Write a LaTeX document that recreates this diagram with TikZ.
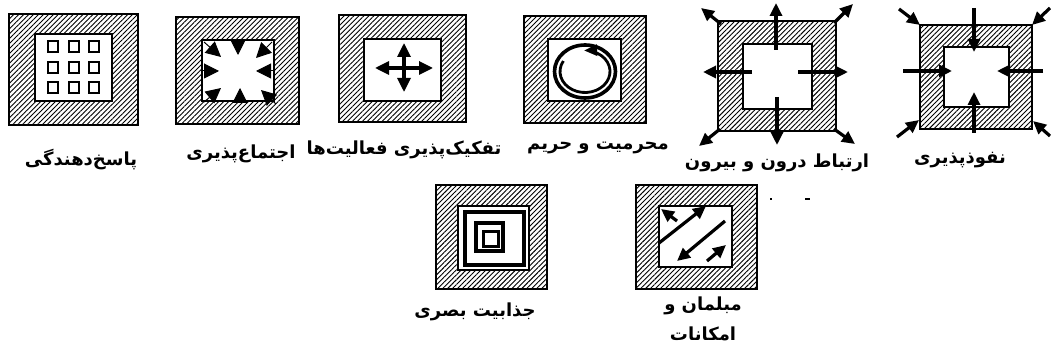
\documentclass[tikz,border=0pt]{standalone}
\usepackage{fontspec}
\usepackage{tikz}
\usetikzlibrary{arrows.meta, patterns.meta}
\TeXXeTstate=1
\newfontfamily\persianfont[Script=Arabic]{DejaVu Sans}
\newcommand{\fa}[1]{\beginR #1\endR}

\begin{document}
\begin{tikzpicture}[x=1pt, y=-1pt,
    outerbox/.style={draw, line width=2.6pt, inner sep=0pt,
      pattern={Lines[angle=45, distance=3.5pt, line width=0.9pt]}},
    innerbox/.style={draw, fill=white, line width=2.2pt, inner sep=0pt},
    cellbox/.style={draw, line width=2pt, inner sep=0pt, minimum width=10pt, minimum height=11pt},
    bigarrow/.style={line width=3.2pt, -{Triangle[length=13pt, width=12pt]}},
    headonly/.style={line width=1pt, -{Triangle[length=15pt, width=15pt]}},
    caption/.style={font=\persianfont\bfseries\fontsize{18}{30}\selectfont, inner sep=0pt, align=center}]
  \useasboundingbox (0,0) rectangle (1051,355);

  % first row of frames
  \node[outerbox, minimum width=129pt, minimum height=111pt] (respo) at (73.5,69.5) {};
  \node[innerbox, minimum width=77pt, minimum height=67pt] (respi) at (73.5,67.5) {};
  \foreach \dx [count=\i] in {-20.5,0,20.5}
    \foreach \dy [count=\j] in {-21,0,20}
      \node[cellbox] (cell-\i-\j) at ([shift={(\dx,\dy)}]respi.center) {};

  \node[outerbox, minimum width=123pt, minimum height=107pt] (soco) at (237.5,70.5) {};
  \node[innerbox, minimum width=72pt, minimum height=61pt] (soci) at (238,70.5) {};
  \draw[headonly] (238,40) -- (238,55);
  \draw[headonly] (240,102) -- (240,88);
  \draw[headonly] (202,71) -- (219,71);
  \draw[headonly] (274,71) -- (256,71);
  \draw[headonly] (204,42) -- (221,57);
  \draw[headonly] (272,42) -- (256,58);
  \draw[headonly] (204,102) -- (221,88);
  \draw[headonly] (276,104) -- (261,90);

  \node[outerbox, minimum width=127pt, minimum height=107pt] (sepo) at (402.5,68.5) {};
  \node[innerbox, minimum width=77pt, minimum height=62pt] (sepi) at (402.5,70) {};
  \draw[line width=3.2pt, {Triangle[length=14pt, width=13pt]}-{Triangle[length=14pt, width=13pt]}] (375,68) -- (433,68);
  \draw[line width=3.2pt, {Triangle[length=14pt, width=13pt]}-{Triangle[length=14pt, width=13pt]}] (404,43) -- (404,92);

  \node[outerbox, minimum width=122pt, minimum height=107pt] (privo) at (585,69.5) {};
  \node[innerbox, minimum width=73pt, minimum height=62pt] (privi) at (584.5,70) {};
  \draw[line width=3.6pt] (585,71.5) ellipse[x radius=30.5, y radius=26.5];
  \draw[line width=2.8pt, -{Triangle[length=13pt, width=11pt]}] (585,71.5) ++(-150:25 and 21)
    arc[start angle=-150, end angle=-452, x radius=25, y radius=21];

  \node[outerbox, minimum width=118pt, minimum height=110pt] (inouto) at (777,76) {};
  \node[innerbox, minimum width=69pt, minimum height=65pt] (inouti) at (777.5,76.5) {};
  \draw[bigarrow] (776,50) -- (776,3);
  \draw[bigarrow] (777,97) -- (777,145);
  \draw[bigarrow] (752,72) -- (703,72);
  \draw[bigarrow] (798,72) -- (848,72);
  \draw[bigarrow] (721,24) -- (701,8);
  \draw[bigarrow] (834,23) -- (853,4);
  \draw[bigarrow] (720,129) -- (699,146);
  \draw[bigarrow] (834,129) -- (855,144);

  \node[outerbox, minimum width=112pt, minimum height=104pt] (permo) at (976,77) {};
  \node[innerbox, minimum width=65pt, minimum height=60pt] (permi) at (976.5,77) {};
  \draw[bigarrow] (974,8) -- (974,52);
  \draw[bigarrow] (974,133) -- (974,92);
  \draw[bigarrow] (903,71) -- (952,71);
  \draw[bigarrow] (1043,71) -- (997,71);
  \draw[bigarrow] (899,9) -- (920,25);
  \draw[bigarrow] (1050,8) -- (1032,25);
  \draw[bigarrow] (897,137) -- (919,120);
  \draw[bigarrow] (1050,136) -- (1033,121);

  % second row of frames
  \node[outerbox, minimum width=111pt, minimum height=104pt] (viso) at (491.5,237) {};
  \node[innerbox, minimum width=71pt, minimum height=64pt] (visi) at (493.5,238) {};
  \draw[line width=4pt] (465,212) rectangle (524,265);
  \draw[line width=3.7pt] (476,223) rectangle (503,251);
  \draw[line width=3pt] (483.5,231.5) rectangle (498.5,246.5);

  \node[outerbox, minimum width=121pt, minimum height=104pt] (furno) at (696.5,237) {};
  \node[innerbox, minimum width=73pt, minimum height=61pt] (furni) at (695.5,236.5) {};
  \draw[bigarrow] (659,243) -- (706,206);
  \draw[bigarrow] (677,221) -- (661,209);
  \draw[bigarrow] (725,221) -- (677,261);
  \draw[bigarrow] (707,261) -- (726,245);

  \fill (770,198) rectangle (772,200);
  \fill (805,198) rectangle (810,200);

  % captions
  \node[caption] (resplab) at (81,160) {\fa{پاسخ‌دهندگی}};
  \node[caption] (soclab) at (241,154) {\fa{اجتماع‌پذیری}};
  \node[caption] (seplab) at (404,150) {\fa{تفکیک‌پذیری فعالیت‌ها}};
  \node[caption] (privlab) at (598,148) {\fa{محرمیت و حریم}};
  \node[caption] (inoutlab) at (777,163) {\fa{ارتباط درون و بیرون}};
  \node[caption] (permlab) at (960,160) {\fa{نفوذپذیری}};
  \node[caption] (vislab) at (475,312) {\fa{جذابیت بصری}};
  \node[caption] (furnlab) at (703,319) {\fa{مبلمان و}\\\fa{امکانات}};
\end{tikzpicture}
\end{document}
